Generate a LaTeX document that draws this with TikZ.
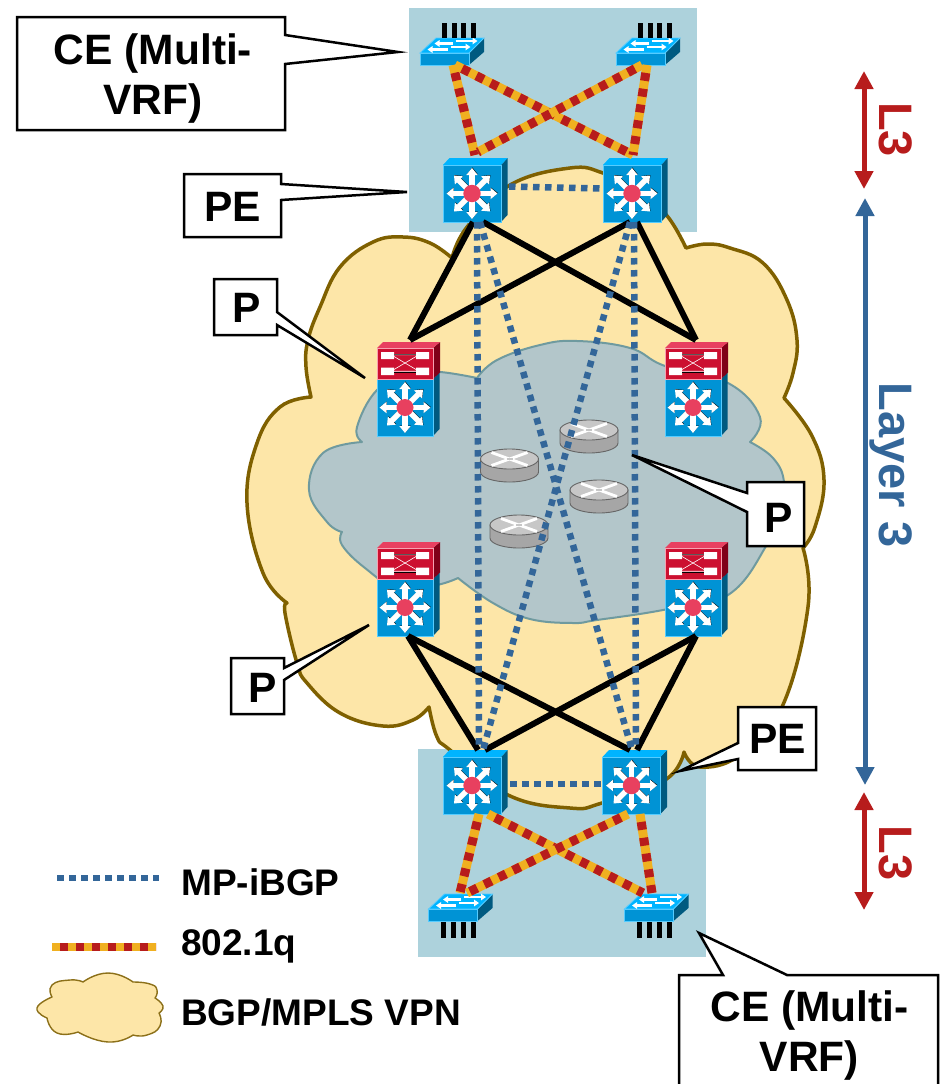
\documentclass[tikz,border=0pt]{standalone}
\usepackage{fontspec}
\setmainfont{Liberation Sans}
\usetikzlibrary{arrows.meta}
\definecolor{rectblue}{HTML}{ADD2DC}
\definecolor{cloudfill}{HTML}{FDE6A8}
\definecolor{cloudline}{HTML}{7F6000}
\definecolor{grayfill}{HTML}{B3C6CA}
\definecolor{grayline}{HTML}{6F9A9F}
\definecolor{ibgp}{HTML}{336699}
\definecolor{qorange}{HTML}{F0B020}
\definecolor{qred}{HTML}{B71C1C}
\definecolor{devfront}{HTML}{0093D5}
\definecolor{devtop}{HTML}{00B4FF}
\definecolor{devside}{HTML}{005A80}
\definecolor{devedge}{HTML}{55CCFF}
\definecolor{hub}{HTML}{E8405F}
\definecolor{redfront}{HTML}{CC1030}
\definecolor{redtop}{HTML}{E84060}
\definecolor{redside}{HTML}{800018}
\definecolor{rededge}{HTML}{F7A0B0}
\tikzset{
  devbox/.style={inner sep=0pt,outer sep=0pt},
  blacklink/.style={line width=6pt,draw=black},
  ibgplink/.style={line width=6.5pt,draw=ibgp,dash pattern=on 6.5pt off 5.5pt},
  qlink/.style={line width=9pt,draw=qorange,postaction={draw=qred,line width=9pt,dash pattern=on 8pt off 8pt,dash phase=8pt}},
  qlegend/.style={line width=8pt,draw=qorange,postaction={draw=qred,line width=8pt,dash pattern=on 8pt off 8pt,dash phase=8pt}},
  calloutbox/.style={fill=white,draw=black,line width=2.5pt,line join=miter},
  callouttext/.style={font=\fontsize{42.5}{50}\selectfont\bfseries,align=center,inner sep=0pt},
  legendtext/.style={font=\fontsize{37}{42}\selectfont\bfseries,anchor=base west,inner sep=0pt},
  sidetext/.style={font=\fontsize{47}{52}\selectfont\bfseries,rotate=-90,anchor=base,inner sep=0pt},
  rangearrow/.style={line width=5pt,{Triangle[width=18pt,length=18pt]}-{Triangle[width=18pt,length=18pt]}},
  smoothcurve/.style={smooth,tension=0.7},
  roundcurve/.style={smooth,tension=0.95},
}
% multilayer switch body: origin = centre of front face
\newcommand{\mlsbody}[3]{% half width, half height, hub radius
  \fill[devside] (#1,-#2) -- (#1+6.5,-#2-7) -- (#1+6.5,#2-7) -- (#1,#2) -- cycle;
  \fill[devtop] (-#1,-#2) -- (-#1+6.5,-#2-7) -- (#1+6.5,-#2-7) -- (#1,-#2) -- cycle;
  \draw[devedge,line width=1pt,fill=devfront] (-#1,-#2) rectangle (#1,#2);
  \foreach \a in {0,45,...,315}{
    \draw[black,line width=5pt,-{Triangle[width=10.5pt,length=7pt]}] (0.4,-0.5) -- ++(\a:25.5);
  }
  \foreach \a in {0,45,...,315}{
    \draw[white,line width=5.5pt,-{Triangle[width=11pt,length=7pt]}] (0,0) -- (\a:25.5);
  }
  \fill[hub] (0,0) circle (#3);
}
\newcommand{\pedevice}[3]{% name, x, y
  \node[devbox,minimum width=58pt,minimum height=57pt] (#1) at (#2,#3) {};
  \begin{scope}[shift={(#2,#3)}]\mlsbody{29}{28.5}{8.7}\end{scope}
}
\newcommand{\pdevice}[3]{% name, x, y (centre of the stack: front 88 high)
  \node[devbox,minimum width=56pt,minimum height=88pt] (#1) at (#2,#3) {};
  \begin{scope}[shift={(#2,#3+15.5)}]\mlsbody{28}{28.5}{8.5}\end{scope}
  \begin{scope}[shift={(#2,#3-28.5)}]
    \fill[redside] (28,-15.5) -- (35,-21.5) -- (35,9) -- (28,15.5) -- cycle;
    \fill[redtop] (-28,-15.5) -- (-22,-21.5) -- (35,-21.5) -- (28,-15.5) -- cycle;
    \draw[rededge,line width=1pt,fill=redfront] (-28,-15.5) rectangle (28,15.5);
    \fill[white] (-24,-11.5) rectangle (-11,-4.5) (11,-11.5) rectangle (24,-4.5);
    \fill[white] (-24,4) rectangle (-11,11.5) (11,4) rectangle (24,11.5);
    \draw[black,line width=0.4pt] (-11,-9.5) -- (11,-9.5) (-11,8.5) -- (11,8.5);
    \draw[white,line width=0.6pt] (-11,-7) -- (11,6) (-11,6) -- (11,-7) (-11,-8.7) -- (11,-8.7) (-11,7.7) -- (11,7.7);
  \end{scope}
}
\newcommand{\switchbody}{% origin = centre of front face
  \fill[devside] (24.5,-6) -- (39.5,-21) -- (39.5,-7) -- (24.5,6) -- cycle;
  \draw[devedge,line width=0.8pt,fill=devtop] (-24.5,-6) -- (-8.5,-21) -- (39.5,-21) -- (24.5,-6) -- cycle;
  \draw[devedge,line width=1pt,fill=devfront] (-24.5,-6) rectangle (24.5,6);
  \draw[white,line width=2.8pt,-{Triangle[width=6.5pt,length=5pt]}] (8,-15.5) -- (-10,-15.5);
  \draw[white,line width=2.8pt,-{Triangle[width=6.5pt,length=5pt]}] (11,-18) -- (33,-18);
  \draw[white,line width=2.8pt,-{Triangle[width=6.5pt,length=5pt]}] (3,-9.5) -- (-17,-9.5);
  \draw[white,line width=2.8pt,-{Triangle[width=6.5pt,length=5pt]}] (6,-12) -- (26,-12);
}
\newcommand{\switchup}[3]{% name, x, y
  \node[devbox,minimum width=49pt,minimum height=12pt] (#1) at (#2,#3) {};
  \begin{scope}[shift={(#2,#3)}]
    \switchbody
    \foreach \d in {0,9.6,19.2,28.8}{\fill[black] (\d-2.5,-36) rectangle (\d+2.5,-21);}
  \end{scope}
}
\newcommand{\switchdown}[3]{% name, x, y
  \node[devbox,minimum width=49pt,minimum height=12pt] (#1) at (#2,#3) {};
  \begin{scope}[shift={(#2,#3)}]
    \switchbody
    \foreach \d in {-10,0,10,20}{\fill[black] (\d-2.5,7) rectangle (\d+2.5,23);}
  \end{scope}
}
\newcommand{\routerdev}[3]{% name, x, y of top ellipse centre
  \node[devbox,minimum width=58pt,minimum height=33pt] (#1) at (#2,#3+6.5) {};
  \begin{scope}[shift={(#2,#3)}]
    \draw[black!60,line width=0.9pt,fill=black!35] (-29,0) -- (-29,13) arc[start angle=180,end angle=360,x radius=29,y radius=-10] -- (29,0) -- cycle;
    \draw[black!60,line width=0.9pt,fill=black!22] (0,0) ellipse[x radius=29,y radius=10];
    \draw[white,line width=2.8pt] (-18,-6.5) -- (18,6.5) (-18,6.5) -- (18,-6.5);
    \draw[black!22,line width=1.2pt] (-3,0) -- (3,0);
  \end{scope}
}
\begin{document}
\begin{tikzpicture}[x=1pt,y=-1pt]
\useasboundingbox (0,0) rectangle (941,1084);
\clip (0,0) rectangle (941,1084);
% shaded sites
\fill[rectblue] (409,8) rectangle (697,232);
\fill[rectblue] (418,749) rectangle (706,957);
% BGP/MPLS cloud
\draw[fill=cloudfill,draw=cloudline,line width=3.5pt,line join=round]
  plot[smoothcurve] coordinates {(452,258) (467,227) (510,185) (570,168) (603,173) (640,190) (668,217) (686,248)}
  -- plot[smoothcurve] coordinates {(686,248) (707,244) (730,248) (763,263) (787,300) (797,340) (793,373) (784,398)}
  -- plot[smoothcurve] coordinates {(784,398) (812,436) (824,480) (815,527) (803,548)}
  -- plot[smoothcurve] coordinates {(803,548) (808,607) (782,707) (740,755) (700,767) (684,752)}
  -- plot[smoothcurve] coordinates {(684,752) (665,780) (602,803) (570,808) (508,795) (450,750) (437,737) (429,707)}
  -- plot[smoothcurve] coordinates {(429,707) (413,720) (383,726) (340,713) (307,683) (297,663) (285,613) (287,603)}
  -- plot[smoothcurve] coordinates {(287,603) (263,573) (247,503) (257,443) (280,407) (311,397)}
  -- plot[smoothcurve] coordinates {(311,397) (306,367) (308,340) (320,307) (340,267) (373,242) (403,237) (430,243) (452,258)}
  -- cycle;
% core cloud
\draw[fill=grayfill,draw=grayline,line width=2pt,line join=round]
  plot[smoothcurve] coordinates {(477,378) (497,360) (540,345) (577,341) (630,348) (665,366) (728,383) (760,417) (750,442)}
  -- plot[smoothcurve] coordinates {(750,442) (773,458) (784,482) (780,515) (768,543) (728,595) (663,610) (597,620) (573,623) (530,619) (493,603) (458,578)}
  -- plot[smoothcurve] coordinates {(458,578) (437,585) (400,590) (365,568) (342,545) (342,532)}
  -- plot[smoothcurve] coordinates {(342,532) (327,522) (309,490) (323,453) (362,442)}
  -- plot[smoothcurve] coordinates {(362,442) (357,427) (377,390) (410,373) (440,372) (477,378)}
  -- cycle;
% routers
\routerdev{r1}{509.5}{459}
\routerdev{r2}{589}{430}
\routerdev{r3}{599}{490}
\routerdev{r4}{519}{525}
% devices
\switchup{ce1}{444.5}{59}
\switchup{ce2}{640.5}{59}
\pedevice{pe1}{472}{193.5}
\pedevice{pe2}{632}{193.5}
\pdevice{pa}{405}{392}
\pdevice{pb}{693}{392}
\pdevice{pc}{405}{592}
\pdevice{pd}{693}{592}
\pedevice{pe3}{472}{785.5}
\pedevice{pe4}{631.5}{785.5}
\switchdown{ce3}{453}{915}
\switchdown{ce4}{649}{915}
% black links
\draw[blacklink] ([xshift=5pt,yshift=8pt]pa.north) -- ([xshift=1pt]pe1.south);
\draw[blacklink] ([xshift=5pt,yshift=8pt]pa.north) -- ([xshift=-2pt]pe2.south);
\draw[blacklink] ([xshift=3pt,yshift=8pt]pb.north) -- ([xshift=11pt]pe1.south);
\draw[blacklink] ([xshift=3pt,yshift=8pt]pb.north) -- ([xshift=5pt]pe2.south);
\draw[blacklink] ([xshift=3pt]pc.south) -- ([xshift=6pt,yshift=7pt]pe3.north);
\draw[blacklink] ([xshift=3pt]pc.south) -- ([xshift=-1.5pt,yshift=7pt]pe4.north);
\draw[blacklink] ([xshift=3pt]pd.south) -- ([xshift=13pt,yshift=7pt]pe3.north);
\draw[blacklink] ([xshift=3pt]pd.south) -- ([xshift=5.5pt,yshift=7pt]pe4.north);
% iBGP links
\draw[ibgplink] ([xshift=5pt]pe1.south) -- ([xshift=7pt,yshift=7pt]pe3.north);
\draw[ibgplink] ([xshift=2pt]pe2.south) -- ([xshift=4.5pt,yshift=7pt]pe4.north);
\draw[ibgplink] ([xshift=8pt]pe1.south) -- ([xshift=0.5pt,yshift=7pt]pe4.north);
\draw[ibgplink] ([xshift=-2pt]pe2.south) -- ([xshift=11pt,yshift=7pt]pe3.north);
\draw[ibgplink] ([yshift=7pt]pe1.east) ++(8pt,0) -- ([yshift=5pt]pe2.west);
\draw[ibgplink] ([yshift=1.5pt]pe3.east) ++(9pt,0) -- ([yshift=1.5pt]pe4.west);
% 802.1q links
\draw[qlink] ([xshift=8.5pt]ce1.south) -- ([xshift=3pt,yshift=10pt]pe1.north);
\draw[qlink] ([xshift=10.5pt]ce1.south) -- ([xshift=1pt,yshift=10pt]pe2.north);
\draw[qlink] ([xshift=6.5pt]ce2.south) -- ([xshift=1pt,yshift=10pt]pe2.north);
\draw[qlink] ([xshift=1.5pt]ce2.south) -- ([xshift=6pt,yshift=13pt]pe1.north);
\draw[qlink] ([xshift=7pt]pe3.south) -- ([xshift=7pt,yshift=16pt]ce3.north);
\draw[qlink] ([xshift=16pt]pe3.south) -- ([xshift=-6pt,yshift=16pt]ce4.north);
\draw[qlink] ([xshift=-3.5pt]pe4.south) -- ([xshift=14pt,yshift=16pt]ce3.north);
\draw[qlink] ([xshift=8.5pt]pe4.south) -- ([xshift=3pt,yshift=16pt]ce4.north);
% callouts
\draw[calloutbox] (17,17) -- (285,17) -- (285,35) -- (398,52) -- (285,64) -- (285,130) -- (17,130) -- cycle;
\node[callouttext] (lblce1) at (153,79) {CE (Multi-\\VRF)};
\draw[calloutbox] (184,174) -- (281,174) -- (281,184) -- (407,192) -- (281,200) -- (281,237) -- (184,237) -- cycle;
\node[callouttext,anchor=base] (lblpe1) at (232.5,221) {PE};
\draw[calloutbox] (214,279) -- (277,279) -- (277,312) -- (365,378) -- (277,325) -- (277,335) -- (214,335) -- cycle;
\node[callouttext,anchor=base] (lblp1) at (247,322) {P};
\draw[calloutbox] (747,482) -- (804,482) -- (804,546) -- (747,546) -- (747,512) -- (632,455) -- (747,493) -- cycle;
\node[callouttext,anchor=base] (lblp2) at (779,532) {P};
\draw[calloutbox] (231,658) -- (284,658) -- (284,668) -- (369,625) -- (284,680) -- (284,714) -- (231,714) -- cycle;
\node[callouttext,anchor=base] (lblp3) at (262.5,702) {P};
\draw[calloutbox] (738,707) -- (816,707) -- (816,770) -- (738,770) -- (738,759) -- (680,771) -- (738,743) -- cycle;
\node[callouttext,anchor=base] (lblpe2) at (777.5,753) {PE};
\draw[calloutbox] (679,975) -- (723,975) -- (699,933) -- (787,975) -- (938,975) -- (938,1095) -- (679,1095) -- cycle;
\node[callouttext] (lblce2) at (809.5,1035) {CE (Multi-\\VRF)};
% range arrows
\coordinate (lt) at (864,71); \coordinate (lb) at (864,189);
\coordinate (mt) at (865,198); \coordinate (mb) at (865,785);
\coordinate (bt) at (864,792); \coordinate (bb) at (864,910);
\draw[rangearrow,draw=qred,fill=qred] (lt) -- (lb);
\draw[rangearrow,draw=ibgp,fill=ibgp] (mt) -- (mb);
\draw[rangearrow,draw=qred,fill=qred] (bt) -- (bb);
\node[sidetext,text=qred] (l3a) at (879,129.5) {L3};
\node[sidetext,text=ibgp] (l3m) at (879,465) {Layer 3};
\node[sidetext,text=qred] (l3b) at (879,853) {L3};
% legend
\coordinate (legaw) at (57,878); \coordinate (legae) at (159,878);
\coordinate (legbw) at (52,947); \coordinate (legbe) at (156,947);
\draw[ibgplink] (legaw) -- (legae);
\draw[qlegend] (legbw) -- (legbe);
\draw[fill=cloudfill,draw=cloudline!90,line width=1.4pt,line join=round]
  plot[roundcurve] coordinates {(83,982) (108,973) (133,982)}
  -- plot[roundcurve] coordinates {(133,982) (150,984) (157,990) (155,998)}
  -- plot[roundcurve] coordinates {(155,998) (163,1006) (159,1013)}
  -- plot[roundcurve] coordinates {(159,1013) (160,1026) (147,1035) (133,1035)}
  -- plot[roundcurve] coordinates {(133,1035) (108,1042) (78,1032)}
  -- plot[roundcurve] coordinates {(78,1032) (57,1033) (47,1018)}
  -- plot[roundcurve] coordinates {(47,1018) (37,1008) (52,997)}
  -- plot[roundcurve] coordinates {(52,997) (52,985) (70,980) (83,982)}
  -- cycle;
\node[legendtext] (lega) at (181,895) {MP-iBGP};
\node[legendtext] (legb) at (181,955) {802.1q};
\node[legendtext] (legc) at (181,1025) {BGP/MPLS VPN};
\end{tikzpicture}
\end{document}
